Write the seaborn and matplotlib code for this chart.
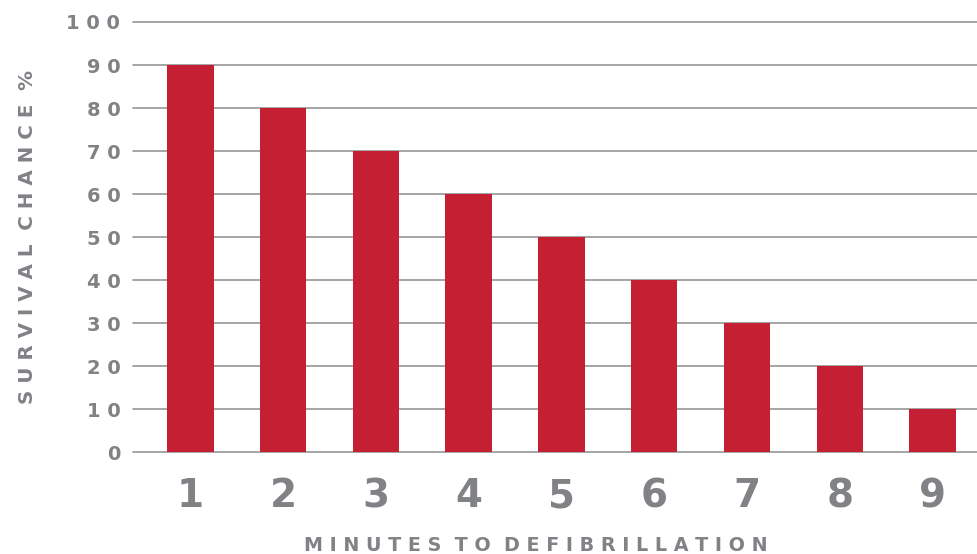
import matplotlib
matplotlib.use('Agg')
import matplotlib.pyplot as plt
import seaborn as sns
import pandas as pd

# ========== Dữ liệu ==========
minutes = ['1', '2', '3', '4', '5', '6', '7', '8', '9']
survival = [90, 80, 70, 60, 50, 40, 30, 20, 10]
y_ticks = [0, 10, 20, 30, 40, 50, 60, 70, 80, 90, 100]

BAR_COLOR = '#C41F33'
TEXT_COLOR = '#808285'
GRID_COLOR = '#969696'


def spaced(s):
    # giãn chữ: một khoảng trắng giữa các ký tự, hai giữa các từ
    return '  '.join(' '.join(w) for w in s.split(' '))


df = pd.DataFrame({'Minutes': minutes, 'Survival': survival})

sns.set_style('white')
plt.rcParams['font.family'] = ['DejaVu Sans']

fig = plt.figure(figsize=(9.77, 5.54), dpi=100)
ax = fig.add_axes([0.136, 0.184, 0.864, 0.7763])

sns.barplot(data=df, x='Minutes', y='Survival', color=BAR_COLOR,
            width=0.5, saturation=1, linewidth=0, ax=ax, zorder=3)

ax.set_ylim(0, 100)
ax.set_xlim(-0.62, 8.48)
ax.set_yticks(y_ticks)
ax.set_yticklabels([spaced(str(t)) for t in y_ticks], fontsize=14,
                   fontweight='bold', color=TEXT_COLOR)
ax.set_xticks(range(len(minutes)))
ax.set_xticklabels(minutes, fontsize=28, fontweight='bold', color=TEXT_COLOR)
ax.tick_params(axis='y', length=0, pad=9)
ax.tick_params(axis='x', length=0, pad=18)

ax.yaxis.grid(True, color=GRID_COLOR, linewidth=1.2, zorder=0)
ax.xaxis.grid(False)
ax.set_axisbelow(True)
for gl in ax.get_ygridlines():
    gl.set_clip_on(False)
for s in ax.spines.values():
    s.set_visible(False)

ax.set_xlabel('')
ax.set_ylabel('')

fig.text(0.028, 0.572, spaced('SURVIVAL CHANCE %'), rotation=90,
         ha='center', va='center', fontsize=14.3, fontweight='bold', color=TEXT_COLOR)
fig.text(0.548, 0.015, spaced('MINUTES TO DEFIBRILLATION'),
         ha='center', va='center', fontsize=13.8, fontweight='bold', color=TEXT_COLOR)

fig.savefig('out.png', dpi=100)
